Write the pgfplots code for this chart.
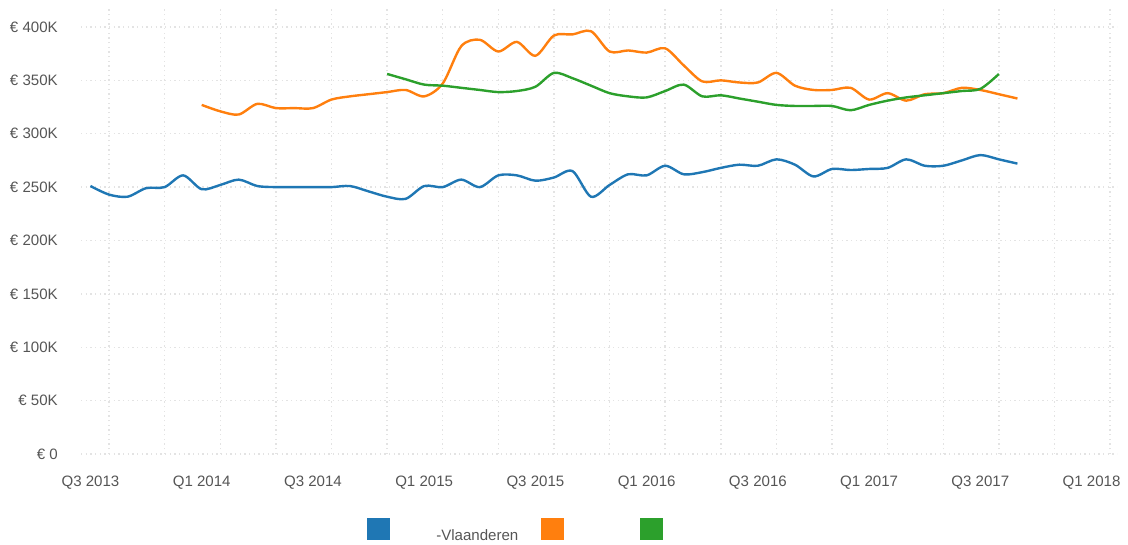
\documentclass[border=0pt]{standalone}
\usepackage{pgfplots}
\pgfplotsset{compat=1.18}
\usepackage{pgfplotstable}
\usepackage{fontspec}
\setmainfont{Liberation Sans}
\definecolor{cblue}{HTML}{1F77B4}
\definecolor{corange}{HTML}{FF7F0E}
\definecolor{cgreen}{HTML}{2CA02C}
\definecolor{gridc}{HTML}{E3E3E3}
\definecolor{txt}{HTML}{555555}

\pgfplotstableread{
m v
0 251
1 243
2 241
3 249
4 250
5 261
6 248
7 252
8 257
9 251
10 250
11 250
12 250
13 250
14 251
15 246
16 241
17 239
18 251
19 250
20 257
21 250
22 261
23 261
24 256
25 259
26 265
27 241
28 252
29 262
30 261
31 270
32 262
33 264
34 268
35 271
36 270
37 276
38 271
39 260
40 267
41 266
42 267
43 268
44 276
45 270
46 270
47 275
48 280
49 276
50 272
}\blue

\pgfplotstableread{
m v
6 327
7 321
8 318
9 328
10 324
11 324
12 324
13 332
14 335
15 337
16 339
17 341
18 335
19 347
20 382
21 388
22 377
23 386
24 373
25 392
26 393
27 396
28 377
29 378
30 376
31 380
32 364
33 349
34 350
35 348
36 348
37 357
38 345
39 341
40 341
41 343
42 332
43 338
44 331
45 337
46 338
47 343
48 341
49 337
50 333
}\orange

\pgfplotstableread{
m v
16 356
17 351
18 346
19 345
20 343
21 341
22 339
23 340
24 344
25 357
26 352
27 345
28 338
29 335
30 334
31 340
32 346
33 335
34 336
35 333
36 330
37 327
38 326
39 326
40 326
41 322
42 327
43 331
44 334
45 336
46 338
47 340
48 342
49 356
}\green

\begin{document}
\begin{tikzpicture}
\path[use as bounding box] (-60.75pt,-67.5pt) rectangle (785.25pt,340.5pt);
\begin{axis}[
  at={(0pt,0pt)}, anchor=south west,
  scale only axis, width=777pt, height=335.25pt,
  xmin=-0.51, xmax=55.37, ymin=0, ymax=418.7,
  axis line style={draw=none},
  major tick style={draw=none}, minor tick style={draw=none},
  xtick={0,6,...,54},
  xticklabels={Q3 2013,Q1 2014,Q3 2014,Q1 2015,Q3 2015,Q1 2016,Q3 2016,Q1 2017,Q3 2017,Q1 2018},
  minor xtick={1,4,...,55},
  xminorgrids=true, xmajorgrids=false, ymajorgrids=true,
  ytick={0,50,...,400},
  yticklabels={€ 0,€ 50K,€ 100K,€ 150K,€ 200K,€ 250K,€ 300K,€ 350K,€ 400K},
  minor grid style={gridc, line width=1.1pt, dash pattern=on 1.1pt off 2.4pt},
  major grid style={gridc, line width=1.1pt, dash pattern=on 1.1pt off 2.4pt},
  ticklabel style={font=\fontsize{11.3}{13}\selectfont, text=txt, inner sep=0pt},
  xticklabel style={anchor=base, yshift=-24pt},
  yticklabel style={anchor=east, xshift=-17.25pt},
  every axis plot/.append style={line width=1.8pt, smooth, tension=0.5, no markers},
]
\addplot[cblue] table[x=m,y=v] {\blue};
\addplot[corange] table[x=m,y=v] {\orange};
\addplot[cgreen] table[x=m,y=v] {\green};
\end{axis}
\fill[cblue] (214.7pt,-64.5pt) rectangle (232pt,-47.8pt);
\fill[corange] (345pt,-64.5pt) rectangle (362.5pt,-47.8pt);
\fill[cgreen] (419pt,-64.5pt) rectangle (436.5pt,-47.8pt);
\node[anchor=base west, inner sep=0pt, text=txt, font=\fontsize{11.3}{13}\selectfont] at (266.25pt,-64.5pt) {-Vlaanderen};
\end{tikzpicture}
\end{document}
